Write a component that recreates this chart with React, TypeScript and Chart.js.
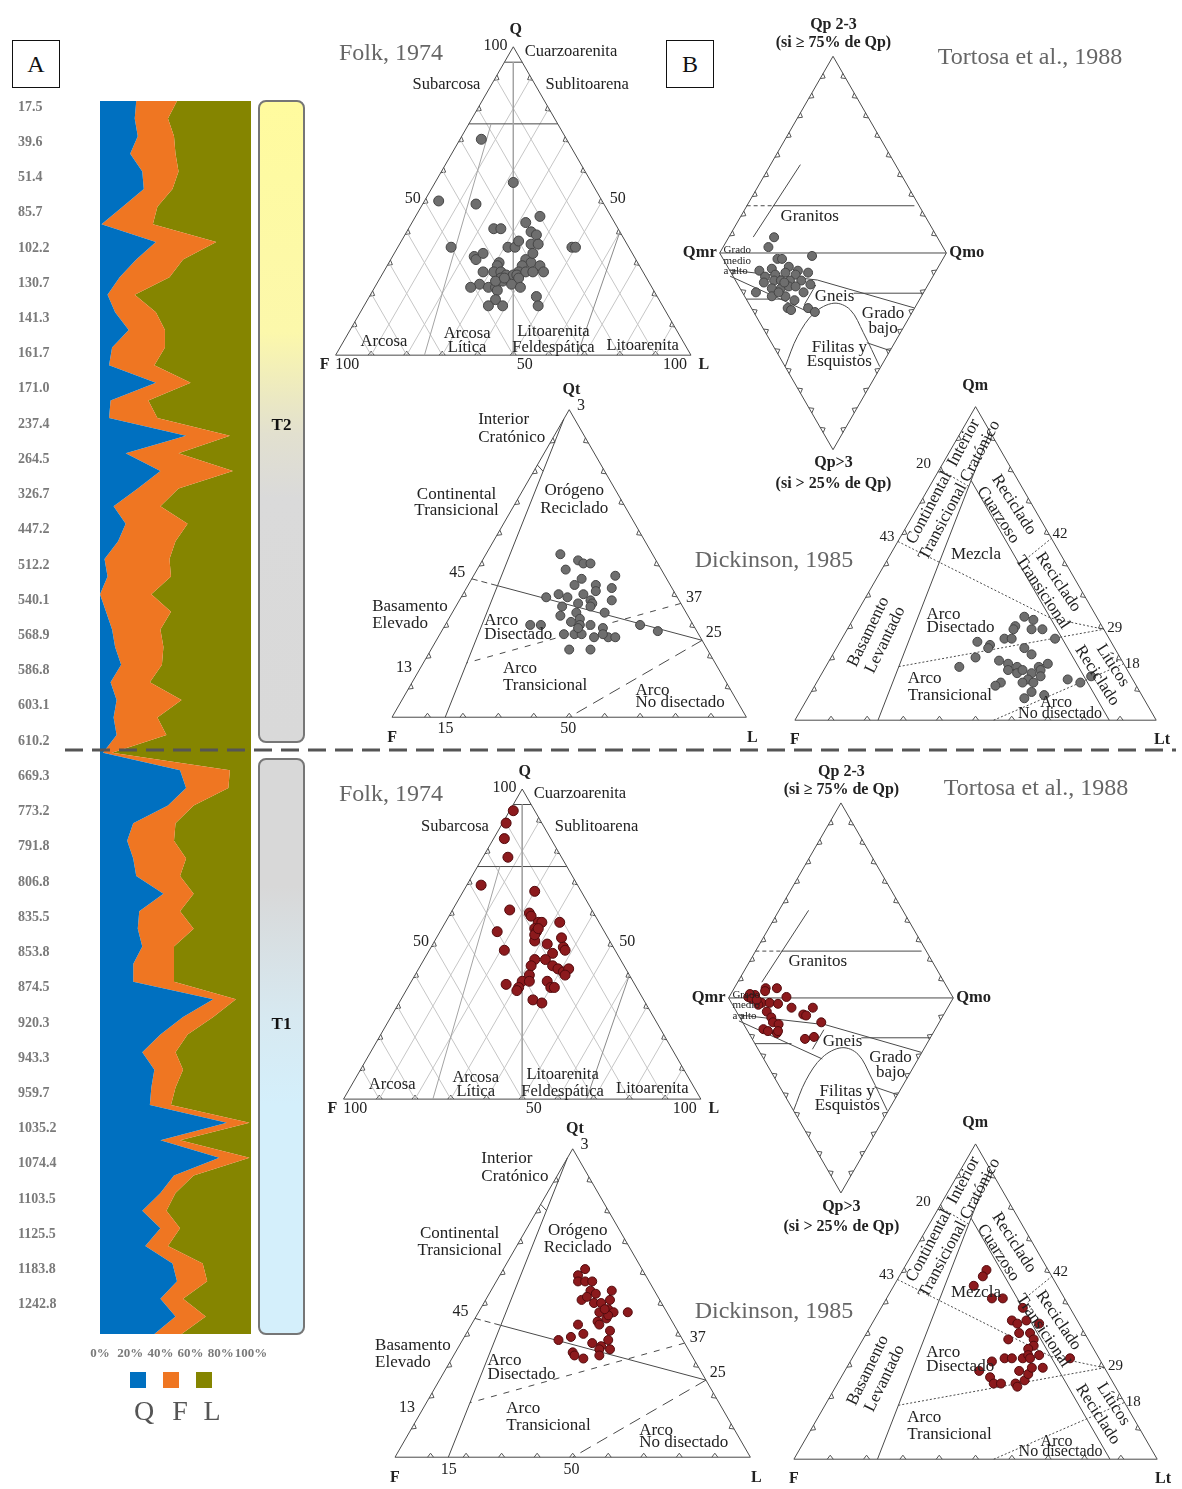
import React, { useEffect, useRef } from 'react';
import { Chart, registerables } from 'chart.js';

Chart.register(...registerables);

const PAGE_W = 1182;
const PAGE_H = 1489;
const SERIF = '"Liberation Serif", "Times New Roman", serif';
const INK = '#222222';

const Q_COLOR = '#0070c0';
const F_COLOR = '#ef7622';
const L_COLOR = '#858500';

// ---------- Column A: Q-F-L percentages per sample (top to bottom) ----------
const depthLabels = [
  '17.5', '39.6', '51.4', '85.7', '102.2', '130.7', '141.3', '161.7', '171.0',
  '237.4', '264.5', '326.7', '447.2', '512.2', '540.1', '568.9', '586.8', '603.1', '610.2',
  '669.3', '773.2', '791.8', '806.8', '835.5', '853.8', '874.5', '920.3', '943.3', '959.7',
  '1035.2', '1074.4', '1103.5', '1125.5', '1183.8', '1242.8',
];

const sampleQ = [
  24, 23, 25, 20, 28, 29, 15, 1, 37, 24,
  13, 5, 10, 19, 8, 6, 37, 7, 6, 57,
  17, 40, 25, 9, 17, 12, 3, 5, 0, 4,
  8, 10, 14, 7, 11, 9, 11, 2, 53, 57,
  45, 22, 18, 22, 24, 42, 26, 25, 28, 22,
  22, 75, 55, 40, 28, 36, 34, 33, 84, 40,
  79, 49, 40, 28, 40, 30, 48, 51, 40, 50,
  36,
];
const sampleF = [
  27, 22, 24, 30, 24, 19, 23, 34, 40, 31,
  33, 18, 27, 24, 35, 30, 23, 25, 32, 29,
  35, 48, 27, 31, 41, 38, 43, 42, 34, 43,
  32, 32, 27, 26, 43, 29, 33, 6, 33, 28,
  17, 28, 31, 35, 29, 20, 27, 37, 21, 27,
  27, 15, 20, 18, 22, 19, 16, 14, 15, 13,
  20, 13, 10, 16, 13, 15, 20, 20, 15, 20,
  18,
];
const sampleL = [
  49, 55, 51, 50, 48, 52, 62, 65, 23, 45,
  54, 77, 63, 57, 57, 64, 40, 68, 62, 14,
  48, 12, 48, 60, 42, 50, 54, 53, 66, 53,
  60, 58, 59, 67, 46, 62, 56, 92, 14, 15,
  38, 50, 51, 43, 47, 38, 47, 38, 51, 51,
  51, 10, 25, 42, 50, 45, 50, 53, 1, 47,
  1, 38, 50, 56, 47, 55, 32, 29, 45, 30,
  46,
];

// ---------- Section T2 (upper) compositions ----------
// Folk: [Q, F, L]
const folkT2: [number, number, number][] = [
  [70, 24, 6], [56, 22, 22], [50, 46, 4], [49, 36, 15], [45, 20, 35], [41, 35, 24], [41, 33, 26],
  [43, 25, 32], [40, 25, 35], [39, 24, 37], [35, 34, 31], [35, 32, 33], [37, 30, 33], [36, 27, 37],
  [36, 25, 39], [35, 50, 15], [35, 16, 49], [35, 15, 50], [32, 45, 23], [31, 45, 24], [33, 42, 25],
  [31, 31, 38], [30, 30, 40], [30, 39, 31], [29, 40, 31], [29, 33, 38], [27, 35, 38], [29, 28, 43],
  [27, 28, 45], [27, 45, 28], [27, 42, 31], [27, 40, 33], [26, 39, 35], [26, 37, 37], [25, 41, 34],
  [24, 41, 35], [26, 36, 38], [27, 33, 40], [27, 31, 42], [25, 36, 39], [23, 48, 29], [22, 51, 27],
  [22, 46, 32], [22, 44, 34], [21, 44, 35], [23, 39, 38], [22, 37, 41], [19, 34, 47], [16, 35, 49],
  [18, 46, 36], [16, 49, 35], [16, 45, 39], [24, 43, 33], [25, 40, 35], [33, 28, 39],
];
// Tortosa: upper field [Qp 2-3, Qmr, Qmo], lower field [Qp>3, Qmr, Qmo]
const tortosaT2Upper: [number, number, number][] = [[8, 72, 20], [3, 77, 20]];
const tortosaT2Lower: [number, number, number][] = [
  [1.5, 58.5, 40], [3, 73, 24], [3, 71, 26], [9, 78, 13], [8, 73, 19], [7, 66, 27], [9, 61, 30],
  [10, 56, 34], [12, 74, 14], [11, 70, 19], [10, 66, 24], [11, 61, 28], [14, 69, 17], [14, 66, 20],
  [14, 62, 24], [14, 57, 29], [16, 52, 32], [20, 74, 6], [18, 68, 14], [18, 64, 18], [17, 61, 22],
  [17, 58, 25], [20, 53, 27], [22, 66, 12], [22, 60, 18], [24, 55, 21], [28, 56, 16], [29, 54, 17],
  [28, 47, 25], [30, 43, 27], [20, 64, 16], [15, 73, 12], [15, 64, 21],
];
// Dickinson: [Qt, F, L]
const qtflT2: [number, number, number][] = [
  [53, 26, 21], [51, 22, 27], [50, 21, 29], [50, 19, 31], [48, 27, 25], [46, 14, 40], [45, 24, 31],
  [43, 21, 36], [43, 27, 30], [41, 22, 37], [42, 17, 41], [39, 37, 24], [40, 33, 27], [39, 31, 30],
  [40, 26, 34], [38, 25, 37], [38, 19, 43], [36, 34, 30], [37, 29, 34], [37, 25, 38], [33, 36, 31],
  [34, 31, 35], [34, 23, 43], [30, 46, 24], [30, 43, 27], [31, 34, 35], [32, 31, 37], [30, 32, 38],
  [30, 29, 41], [29, 26, 45], [27, 38, 35], [27, 35, 38], [27, 33, 40], [26, 30, 44], [26, 26, 48],
  [26, 24, 50], [22, 39, 39], [22, 33, 45], [30, 15, 55], [28, 11, 61], [36, 26, 38], [29, 33, 38],
  [27, 27, 46],
];
// Dickinson: [Qm, F, Lt]
const qmfltT2: [number, number, number][] = [
  [33, 20, 47], [32, 18, 50], [30, 24, 46], [29, 25, 46], [29, 20, 51], [29, 17, 54], [26, 15, 59],
  [26, 29, 45], [26, 27, 47], [25, 37, 38], [24, 34, 42], [23, 35, 42], [23, 25, 52], [21, 24, 55],
  [20, 40, 40], [17, 46, 37], [19, 34, 47], [18, 32, 50], [16, 33, 51], [17, 30, 53], [15, 31, 54],
  [16, 29, 55], [17, 24, 59], [16, 24, 60], [18, 21, 61], [15, 27, 58], [13, 29, 58], [12, 31, 57],
  [12, 37, 51], [11, 39, 50], [12, 28, 60], [9, 30, 61], [7, 33, 60], [8, 27, 65], [13, 18, 69],
  [12, 15, 73], [14, 11, 75], [14, 25, 61],
];

// ---------- Section T1 (lower) compositions ----------
const folkT1: [number, number, number][] = [
  [93, 6, 1], [89, 10, 1], [84, 13, 3], [78, 15, 7], [69, 27, 4], [67, 13, 20], [61, 23, 16],
  [60, 18, 22], [59, 18, 23], [54, 30, 16], [57, 17, 26], [57, 16, 27], [57, 11, 32], [55, 19, 26],
  [54, 19, 27], [51, 21, 28], [50, 18, 32], [52, 13, 35], [49, 14, 37], [48, 14, 38], [48, 31, 21],
  [47, 18, 35], [45, 24, 31], [45, 21, 34], [43, 26, 31], [43, 20, 37], [42, 19, 39], [41, 18, 41],
  [42, 16, 42], [40, 18, 42], [40, 28, 32], [38, 31, 31], [38, 29, 33], [36, 33, 31], [35, 34, 31],
  [37, 36, 27], [38, 24, 38], [36, 24, 40], [36, 23, 41], [32, 31, 37], [31, 29, 40], [53, 20, 27],
  [55, 18, 27],
];
const tortosaT1Upper: [number, number, number][] = [
  [5, 81, 14], [5, 76, 19], [1.5, 87.5, 11], [0.5, 91, 8.5], [0.5, 74, 25.5], [3.5, 82, 14.5], [2, 89.5, 8.5],
];
const tortosaT1Lower: [number, number, number][] = [
  [2.5, 84, 13.5], [2.5, 80.5, 17], [3, 76.5, 20.5], [5, 69.5, 25.5], [8.5, 62.5, 29], [5, 60, 35],
  [9, 61, 30], [12.5, 52.5, 35], [7, 79.5, 13.5], [3.5, 85, 11.5], [10, 76, 14], [12.5, 74, 13.5],
  [13.5, 71, 15.5], [16, 76.5, 7.5], [17, 74, 9], [18, 69.5, 12.5], [17, 69.5, 13.5], [21, 55.5, 23.5],
  [20, 52, 28], [0.5, 89.5, 10], [1, 87, 12],
];
const qtflT1: [number, number, number][] = [
  [61, 16, 23], [59, 19, 22], [57, 20, 23], [57, 18, 25], [57, 16, 27], [54, 18, 28], [53, 17, 30],
  [51, 22, 27], [52, 20, 28], [50, 19, 31], [54, 12, 34], [50, 17, 33], [51, 14, 35], [47, 19, 34],
  [48, 16, 36], [47, 15, 38], [47, 11, 42], [45, 18, 37], [44, 21, 35], [43, 21, 36], [41, 19, 40],
  [43, 27, 30], [39, 31, 30], [40, 27, 33], [38, 35, 27], [37, 26, 37], [36, 24, 40], [38, 21, 41],
  [35, 25, 40], [35, 22, 43], [34, 33, 33], [33, 33, 34], [32, 31, 37], [33, 26, 41], [46, 17, 37],
  [48, 17, 35],
];
const qmfltT1: [number, number, number][] = [
  [60, 17, 23], [58, 19, 23], [55, 23, 22], [51, 20, 29], [51, 17, 32], [48, 13, 39], [44, 18, 38],
  [43, 17, 40], [44, 14, 42], [43, 11, 46], [40, 18, 42], [40, 15, 45], [38, 22, 40], [38, 15, 47],
  [36, 16, 48], [35, 18, 47], [33, 16, 51], [32, 8, 60], [31, 30, 39], [32, 26, 42], [32, 24, 44],
  [32, 21, 47], [33, 19, 48], [32, 19, 49], [28, 35, 37], [26, 33, 41], [24, 33, 43], [24, 31, 45],
  [24, 27, 49], [23, 27, 50], [25, 24, 51], [27, 22, 51], [29, 20, 51], [29, 17, 54], [28, 24, 48],
];

// ---------- ternary geometry ----------
type Pt = { x: number; y: number };
const SQ3 = Math.sqrt(3) / 2;
const H = 100 * SQ3;
const P = (x: number, y: number): Pt => ({ x, y });

// apex component on top, the other two at the left / right base corners
function tern(top: number, left: number, right: number): Pt {
  const s = top + left + right;
  return { x: ((right + top / 2) / s) * 100, y: (top / s) * 100 * SQ3 };
}
// lower half of the Tortosa diamond (apex pointing down)
function ternDown(bottom: number, left: number, right: number): Pt {
  const s = bottom + left + right;
  return { x: ((right + bottom / 2) / s) * 100, y: -(bottom / s) * 100 * SQ3 };
}
function intersect(p1: Pt, p2: Pt, p3: Pt, p4: Pt): Pt {
  const d = (p1.x - p2.x) * (p3.y - p4.y) - (p1.y - p2.y) * (p3.x - p4.x);
  const a = p1.x * p2.y - p1.y * p2.x;
  const b = p3.x * p4.y - p3.y * p4.x;
  return {
    x: (a * (p3.x - p4.x) - (p1.x - p2.x) * b) / d,
    y: (a * (p3.y - p4.y) - (p1.y - p2.y) * b) / d,
  };
}

type Seg = { pts: Pt[]; color?: string; width?: number; dash?: number[]; tension?: number; back?: boolean };
type Lbl = {
  text?: string; lines?: string[]; u: number; v: number; size?: number; bold?: boolean;
  align?: CanvasTextAlign; rot?: number;
};
type Kind = 'folk' | 'tortosa' | 'qtfl' | 'qmflt';

const FRAME = '#4a4a4a';
const GRID = '#c6c6c6';
const TRI: Pt[] = [P(0, 0), P(100, 0), P(50, H), P(0, 0)];
const DIAMOND: Pt[] = [P(0, 0), P(50, H), P(100, 0), P(50, -H), P(0, 0)];

function folkFrame(): Seg[] {
  const segs: Seg[] = [];
  for (let k = 10; k < 100; k += 10) {
    segs.push({ pts: [tern(100 - k, k, 0), tern(0, k, 100 - k)], color: GRID, back: true });
    segs.push({ pts: [tern(100 - k, 0, k), tern(0, 100 - k, k)], color: GRID, back: true });
  }
  segs.push({ pts: [tern(95, 2.5, 2.5), tern(0, 50, 50)], color: '#a3a3a3' });
  segs.push({ pts: [tern(75, 18.75, 6.25), tern(0, 75, 25)], color: '#a3a3a3' });
  segs.push({ pts: [tern(40, 0, 60), tern(0, 32, 68)], color: '#8a8a8a' });
  segs.push({ pts: [tern(95, 5, 0), tern(95, 0, 5)] });
  segs.push({ pts: [tern(75, 25, 0), tern(75, 0, 25)] });
  segs.push({ pts: TRI });
  return segs;
}

function tortosaFrame(): Seg[] {
  return [
    { pts: DIAMOND },
    { pts: [P(0, 0), P(100, 0)] },
    { pts: [P(14.8, 7), P(35.6, 38.9)] },
    { pts: [P(11.9, 20.8), P(23.5, 20.8)], dash: [4, 3] },
    { pts: [P(23.5, 20.8), P(85.9, 20.8)] },
    { pts: [P(4.3, -7.5), P(43.1, -11.9), P(85.9, -24.2)] },
    { pts: [P(59.1, -17.7), P(89.8, -17.7)] },
    { pts: [P(11.7, -20.3), P(28, -20.3)] },
    { pts: [P(4.6, -10.2), P(41.7, -27.1)] },
    { pts: [P(37.3, -22.8), P(42.4, -14.1)] },
    {
      pts: [P(28.9, -50), P(34.4, -36.6), P(41.7, -26.4), P(50.4, -22.1), P(57.6, -25), P(63.4, -35.1), P(70.6, -50)],
      tension: 0.35,
    },
    { pts: [P(64.9, -39.5), P(75.2, -43)] },
  ];
}

function qtflFrame(): Seg[] {
  const inner = [tern(97, 3, 0), tern(0, 85, 15)];
  const a45 = tern(45, 55, 0);
  const r25 = tern(25, 0, 75);
  const cut45 = intersect(a45, r25, inner[0], inner[1]);
  const r37 = tern(37, 0, 63);
  const cut37 = intersect(r37, tern(13, 87, 0), inner[0], inner[1]);
  return [
    { pts: TRI },
    { pts: inner },
    { pts: [a45, cut45], dash: [6, 4] },
    { pts: [cut45, r25] },
    { pts: [r37, cut37], dash: [6, 7] },
    { pts: [r25, tern(0, 50, 50)], dash: [12, 7] },
    { pts: [tern(82, 18, 0), tern(80, 17.4, 2.6)] },
  ];
}

function qmfltFrame(): Seg[] {
  const inner = [tern(0, 77, 23), tern(92, 0, 8)];
  const diagTop = intersect(tern(87, 13, 0), tern(0, 13, 87), inner[0], inner[1]);
  const r29 = tern(29, 0, 71);
  const dot = [2, 2];
  return [
    { pts: TRI },
    { pts: inner },
    { pts: [diagTop, tern(0, 13, 87)] },
    { pts: [tern(80, 20, 0), tern(74.6, 14.6, 10.8)], dash: dot },
    { pts: [tern(57, 43, 0), tern(32.6, 13, 54.4), r29], dash: dot },
    { pts: [tern(17.1, 62.7, 20.2), r29], dash: dot },
    { pts: [tern(0, 45, 55), tern(18, 0, 82)], dash: dot },
    { pts: [tern(49.7, 13, 37.3), tern(58, 0, 42)], dash: dot },
  ];
}

const FRAMES: Record<Kind, Seg[]> = {
  folk: folkFrame(),
  tortosa: tortosaFrame(),
  qtfl: qtflFrame(),
  qmflt: qmfltFrame(),
};

const LABELS: Record<Kind, Lbl[]> = {
  folk: [
    { text: 'Q', u: 50.7, v: 91.3, bold: true, size: 16 },
    { text: '100', u: 48.4, v: 86.9, align: 'right', size: 16 },
    { text: 'Cuarzoarenita', u: 53.2, v: 85.2, align: 'left', size: 16.5 },
    { text: 'Subarcosa', u: 31.2, v: 76.0, size: 16.5 },
    { text: 'Sublitoarena', u: 70.8, v: 76.0, size: 16.5 },
    { text: '50', u: 21.7, v: 44.0, size: 16 },
    { text: '50', u: 79.4, v: 44.0, size: 16 },
    { text: 'Arcosa', u: 13.6, v: 3.9, size: 16.5 },
    { text: 'Arcosa', u: 37.0, v: 6.1, size: 16.5 },
    { text: 'Lítica', u: 37.0, v: 2.2, size: 16.5 },
    { text: 'Litoarenita', u: 61.3, v: 6.7, size: 16.5 },
    { text: 'Feldespática', u: 61.3, v: 2.2, size: 16.5 },
    { text: 'Litoarenita', u: 86.4, v: 2.8, size: 16.5 },
    { text: 'F', u: -3.1, v: -2.8, bold: true, size: 16 },
    { text: '100', u: 3.3, v: -2.8, size: 16 },
    { text: '50', u: 53.2, v: -2.8, size: 16 },
    { text: '100', u: 95.5, v: -2.8, size: 16 },
    { text: 'L', u: 103.6, v: -2.8, bold: true, size: 16 },
  ],
  tortosa: [
    { text: 'Qp 2-3', u: 50.2, v: 100.3, bold: true, size: 16 },
    { text: '(si \u2265 75% de Qp)', u: 50.2, v: 92.5, bold: true, size: 16 },
    { text: 'Qmr', u: -1.3, v: 0, bold: true, align: 'right', size: 16.5 },
    { text: 'Qmo', u: 101.3, v: 0, bold: true, align: 'left', size: 16.5 },
    { text: 'Granitos', u: 39.7, v: 16.2 },
    { text: 'Grado', u: 1.7, v: 1.3, size: 11, align: 'left' },
    { text: 'medio', u: 1.7, v: -3.4, size: 11, align: 'left' },
    { text: 'a alto', u: 1.7, v: -7.9, size: 11, align: 'left' },
    { text: 'Gneis', u: 50.7, v: -19.2 },
    { text: 'Grado', u: 72.1, v: -26.6 },
    { text: 'bajo', u: 72.1, v: -33.2 },
    { text: 'Filitas y', u: 52.8, v: -41.5 },
    { text: 'Esquistos', u: 52.8, v: -47.6 },
    { text: 'Qp>3', u: 50.2, v: -92.6, bold: true, size: 16 },
    { text: '(si > 25% de Qp)', u: 50.2, v: -101.7, bold: true, size: 16 },
  ],
  qtfl: [
    { text: 'Qt', u: 50.6, v: 92.2, bold: true, size: 16 },
    { text: '3', u: 52.2, v: 87.7, align: 'left', size: 16 },
    { text: 'Interior', u: 24.3, v: 83.8, align: 'left' },
    { text: 'Cratónico', u: 24.3, v: 78.9, align: 'left' },
    { text: 'Continental', u: 18.2, v: 62.8 },
    { text: 'Transicional', u: 18.2, v: 58.1 },
    { text: 'Orógeno', u: 51.4, v: 63.7 },
    { text: 'Reciclado', u: 51.4, v: 58.9 },
    { text: '45', u: 18.4, v: 40.8, size: 16 },
    { text: 'Basamento', u: -5.6, v: 31.3, align: 'left' },
    { text: 'Elevado', u: -5.6, v: 26.5, align: 'left' },
    { text: 'Arco', u: 26.0, v: 27.1, align: 'left' },
    { text: 'Disectado', u: 26.0, v: 23.2, align: 'left' },
    { text: '37', u: 85.2, v: 33.5, size: 16 },
    { text: '25', u: 90.8, v: 23.7, size: 16 },
    { text: '13', u: 3.4, v: 14.0, size: 16 },
    { text: 'Arco', u: 31.3, v: 13.7, align: 'left' },
    { text: 'Transicional', u: 31.3, v: 8.9, align: 'left' },
    { text: 'Arco', u: 68.7, v: 7.5, align: 'left' },
    { text: 'No disectado', u: 68.7, v: 4.2, align: 'left' },
    { text: 'F', u: 0, v: -5.9, bold: true, size: 16 },
    { text: '15', u: 15.1, v: -3.4, size: 16 },
    { text: '50', u: 49.7, v: -3.4, size: 16 },
    { text: 'L', u: 101.7, v: -5.9, bold: true, size: 16 },
  ],
  qmflt: [
    { text: 'Qm', u: 49.9, v: 92.3, bold: true, size: 16 },
    { text: '20', u: 35.6, v: 70.7, size: 15 },
    { text: '43', u: 25.5, v: 50.7, size: 15 },
    { text: '42', u: 73.4, v: 51.5, size: 15 },
    { text: '29', u: 88.5, v: 25.5, size: 15 },
    { text: '18', u: 93.4, v: 15.6, size: 15 },
    { lines: ['Continental \u00a0Interior', 'Transicional Cratónico'], u: 43.3, v: 64.7, rot: -62 },
    { lines: ['Reciclado', 'Cuarzoso'], u: 58.4, v: 58.1, rot: 57 },
    { lines: ['Reciclado', 'Transicional'], u: 70.7, v: 36.7, rot: 56 },
    { lines: ['Líticos', 'Reciclado'], u: 85.8, v: 13.7, rot: 57 },
    { lines: ['Basamento', 'Levantado'], u: 22.7, v: 23.3, rot: -64 },
    { text: 'Mezcla', u: 50.1, v: 45.8 },
    { text: 'Arco', u: 36.4, v: 29.2, align: 'left' },
    { text: 'Disectado', u: 36.4, v: 25.5, align: 'left' },
    { text: 'Arco', u: 31.2, v: 11.5, align: 'left' },
    { text: 'Transicional', u: 31.2, v: 6.8, align: 'left' },
    { text: 'Arco', u: 72.3, v: 4.9, size: 16 },
    { text: 'No disectado', u: 73.4, v: 1.9, size: 16 },
    { text: 'F', u: 0, v: -5.5, bold: true, size: 16 },
    { text: 'Lt', u: 101.6, v: -5.5, bold: true, size: 16 },
  ],
};

// placement of each diagram on the page: left base corner (px) and base width (px)
type Placement = { ox: number; oy: number; w: number };
type DotStyle = { fill: string; edge: string; r: number };
const GREY_DOT: DotStyle = { fill: '#6e6e6e', edge: '#454545', r: 5 };
const RED_DOT: DotStyle = { fill: '#8c1a1d', edge: '#520a0d', r: 5 };

type Diagram = { kind: Kind; place: Placement; pts: Pt[]; dot: DotStyle };

const DIAGRAMS: Diagram[] = [
  { kind: 'folk', place: { ox: 333, oy: 352, w: 359 }, pts: folkT2.map(([q, f, l]) => tern(q, f, l)), dot: GREY_DOT },
  {
    kind: 'tortosa', place: { ox: 721, oy: 249, w: 229 },
    pts: [...tortosaT2Upper.map(([a, b, c]) => tern(a, b, c)), ...tortosaT2Lower.map(([a, b, c]) => ternDown(a, b, c))],
    dot: { ...GREY_DOT, r: 4.5 },
  },
  { kind: 'qtfl', place: { ox: 390, oy: 717, w: 358 }, pts: qtflT2.map(([q, f, l]) => tern(q, f, l)), dot: { ...GREY_DOT, r: 4.5 } },
  { kind: 'qmflt', place: { ox: 797, oy: 720, w: 365 }, pts: qmfltT2.map(([q, f, l]) => tern(q, f, l)), dot: { ...GREY_DOT, r: 4.5 } },
  { kind: 'folk', place: { ox: 341, oy: 1102, w: 361 }, pts: folkT1.map(([q, f, l]) => tern(q, f, l)), dot: RED_DOT },
  {
    kind: 'tortosa', place: { ox: 730, oy: 1000, w: 227 },
    pts: [...tortosaT1Upper.map(([a, b, c]) => tern(a, b, c)), ...tortosaT1Lower.map(([a, b, c]) => ternDown(a, b, c))],
    dot: { ...RED_DOT, r: 4.5 },
  },
  { kind: 'qtfl', place: { ox: 393, oy: 1463, w: 359 }, pts: qtflT1.map(([q, f, l]) => tern(q, f, l)), dot: { ...RED_DOT, r: 4.5 } },
  { kind: 'qmflt', place: { ox: 796, oy: 1465, w: 367 }, pts: qmfltT1.map(([q, f, l]) => tern(q, f, l)), dot: { ...RED_DOT, r: 4.5 } },
];

const TITLES = [
  { text: 'Folk, 1974', x: 391, y: 54 },
  { text: 'Tortosa et al., 1988', x: 1030, y: 58 },
  { text: 'Dickinson, 1985', x: 774, y: 561 },
  { text: 'Folk, 1974', x: 391, y: 795 },
  { text: 'Tortosa et al., 1988', x: 1036, y: 789 },
  { text: 'Dickinson, 1985', x: 774, y: 1312 },
];

function drawLabel(ctx: CanvasRenderingContext2D, l: Lbl, x: number, y: number) {
  const size = l.size ?? 17;
  ctx.save();
  ctx.font = `${l.bold ? 'bold ' : ''}${size}px ${SERIF}`;
  ctx.fillStyle = INK;
  ctx.textBaseline = 'middle';
  ctx.textAlign = l.align ?? 'center';
  ctx.translate(x, y);
  if (l.rot) ctx.rotate((l.rot * Math.PI) / 180);
  const lines = l.lines ?? [l.text ?? ''];
  const lh = size * 1.1;
  lines.forEach((t, i) => ctx.fillText(t, 0, (i - (lines.length - 1) / 2) * lh));
  ctx.restore();
}

const ternaryDecor = {
  id: 'ternaryDecor',
  beforeDatasetsDraw(chart: any) {
    const ctx: CanvasRenderingContext2D = chart.ctx;
    ctx.save();
    ctx.strokeStyle = '#555555';
    ctx.lineWidth = 1;
    DIAGRAMS.forEach((d, k) => {
      const xs = chart.scales['x' + k];
      const ys = chart.scales['y' + k];
      const px = (p: Pt) => ({ x: xs.getPixelForValue(p.x), y: ys.getPixelForValue(p.y) });
      const outline = d.kind === 'tortosa' ? DIAMOND : TRI;
      const c = px(d.kind === 'tortosa' ? P(50, 0) : P(50, H / 3));
      for (let e = 0; e < outline.length - 1; e++) {
        const a = px(outline[e]);
        const b = px(outline[e + 1]);
        const len = Math.hypot(b.x - a.x, b.y - a.y);
        const ex = (b.x - a.x) / len;
        const ey = (b.y - a.y) / len;
        for (let i = 1; i < 10; i++) {
          const tx = a.x + ((b.x - a.x) * i) / 10;
          const ty = a.y + ((b.y - a.y) * i) / 10;
          let nx = -ey;
          let ny = ex;
          if ((c.x - tx) * nx + (c.y - ty) * ny < 0) { nx = -nx; ny = -ny; }
          ctx.beginPath();
          ctx.moveTo(tx - ex * 3, ty - ey * 3);
          ctx.lineTo(tx + nx * 4, ty + ny * 4);
          ctx.lineTo(tx + ex * 3, ty + ey * 3);
          ctx.stroke();
        }
      }
    });
    ctx.restore();
  },
  afterDatasetsDraw(chart: any) {
    const ctx: CanvasRenderingContext2D = chart.ctx;
    DIAGRAMS.forEach((d, k) => {
      const xs = chart.scales['x' + k];
      const ys = chart.scales['y' + k];
      LABELS[d.kind].forEach((l) => drawLabel(ctx, l, xs.getPixelForValue(l.u), ys.getPixelForValue(l.v)));
    });
    ctx.save();
    ctx.font = `24px ${SERIF}`;
    ctx.fillStyle = '#666666';
    ctx.textAlign = 'center';
    ctx.textBaseline = 'middle';
    TITLES.forEach((t) => ctx.fillText(t.text, t.x, t.y));
    ctx.restore();
  },
};

function ternaryConfig(): any {
  const scales: any = {};
  const datasets: any[] = [];
  DIAGRAMS.forEach((d, k) => {
    const s = d.place.w / 100;
    scales['x' + k] = { type: 'linear', axis: 'x', display: false, min: -d.place.ox / s, max: (PAGE_W - d.place.ox) / s };
    scales['y' + k] = { type: 'linear', axis: 'y', display: false, min: -(PAGE_H - d.place.oy) / s, max: d.place.oy / s };
    FRAMES[d.kind].forEach((seg) => {
      datasets.push({
        data: seg.pts,
        showLine: true,
        borderColor: seg.color ?? FRAME,
        borderWidth: seg.width ?? 1,
        borderDash: seg.dash ?? [],
        tension: seg.tension ?? 0,
        pointRadius: 0,
        fill: false,
        xAxisID: 'x' + k,
        yAxisID: 'y' + k,
        order: seg.back ? 3 : 2,
      });
    });
    datasets.push({
      data: d.pts,
      showLine: false,
      pointRadius: d.dot.r,
      pointBackgroundColor: d.dot.fill,
      pointBorderColor: d.dot.edge,
      pointBorderWidth: 1,
      xAxisID: 'x' + k,
      yAxisID: 'y' + k,
      order: 0,
    });
  });
  return {
    type: 'scatter',
    data: { datasets },
    options: {
      responsive: false,
      maintainAspectRatio: false,
      animation: false,
      devicePixelRatio: 1,
      events: [],
      layout: { padding: 0 },
      plugins: { legend: { display: false }, tooltip: { enabled: false } },
      scales,
    },
    plugins: [ternaryDecor],
  };
}

function columnConfig(): any {
  const rowLabels = sampleQ.map((_, i) => (i % 2 === 0 ? depthLabels[i / 2] ?? '' : ''));
  const series = (label: string, data: number[], color: string, fill: any) => ({
    label,
    data,
    backgroundColor: color,
    borderColor: color,
    borderWidth: 0,
    pointRadius: 0,
    tension: 0,
    fill,
  });
  return {
    type: 'line',
    data: {
      labels: rowLabels,
      datasets: [
        series('Q', sampleQ, Q_COLOR, 'origin'),
        series('F', sampleF, F_COLOR, '-1'),
        series('L', sampleL, L_COLOR, '-1'),
      ],
    },
    options: {
      indexAxis: 'y',
      responsive: false,
      maintainAspectRatio: false,
      animation: false,
      devicePixelRatio: 1,
      events: [],
      layout: { padding: { left: 18, right: 49, top: 11, bottom: 0 } },
      plugins: { legend: { display: false }, tooltip: { enabled: false } },
      scales: {
        x: {
          type: 'linear',
          position: 'bottom',
          stacked: true,
          min: 0,
          max: 100,
          grid: { display: false },
          border: { display: false },
          ticks: {
            stepSize: 20,
            autoSkip: false,
            maxRotation: 0,
            padding: 4,
            color: '#7a7a7a',
            font: { family: SERIF, size: 13, weight: 'bold' },
            callback: (v: any) => `${v}%`,
          },
          afterFit: (s: any) => { s.height = 56; },
        },
        y: {
          type: 'category',
          position: 'left',
          offset: false,
          grid: { display: false },
          border: { display: false },
          ticks: {
            autoSkip: false,
            crossAlign: 'far',
            labelOffset: 6,
            padding: 0,
            color: '#7a7a7a',
            font: { family: SERIF, size: 14, weight: 'bold' },
          },
          afterFit: (s: any) => { s.width = 82; },
        },
      },
    },
  };
}

const boxStyle = (left: number): React.CSSProperties => ({
  position: 'absolute',
  left,
  top: 40,
  width: 46,
  height: 46,
  border: '1.5px solid #111',
  fontFamily: SERIF,
  fontSize: 24,
  lineHeight: '46px',
  textAlign: 'center',
  color: '#111',
  background: '#fff',
});

const unitStyle = (top: number, height: number, bg: string): React.CSSProperties => ({
  position: 'absolute',
  left: 258,
  top,
  width: 43,
  height,
  border: '2px solid #767676',
  borderRadius: 8,
  background: bg,
});

const swatch = (left: number, color: string): React.CSSProperties => ({
  position: 'absolute', left, top: 1372, width: 16, height: 16, background: color,
});

const letter = (left: number): React.CSSProperties => ({
  position: 'absolute', left, top: 1394, width: 24, textAlign: 'center',
  fontFamily: SERIF, fontSize: 28, color: '#555', lineHeight: '34px',
});

export default function App() {
  const colRef = useRef<HTMLCanvasElement>(null);
  const triRef = useRef<HTMLCanvasElement>(null);

  useEffect(() => {
    const column = new Chart(colRef.current as HTMLCanvasElement, columnConfig());
    const ternary = new Chart(triRef.current as HTMLCanvasElement, ternaryConfig());
    return () => {
      column.destroy();
      ternary.destroy();
    };
  }, []);

  return (
    <div style={{ position: 'absolute', left: 0, top: 0, width: PAGE_W, height: PAGE_H, background: '#fff', overflow: 'hidden' }}>
      <div style={boxStyle(12)}>A</div>
      <canvas
        ref={colRef}
        width={300}
        height={1300}
        style={{ position: 'absolute', left: 0, top: 90, width: 300, height: 1300 }}
      />
      <div style={unitStyle(100, 639, 'linear-gradient(#fffb9e 0%, #fcf8ab 36%, #e2e0cf 52%, #dadada 62%, #d9d9d9 100%)')}>
        <div style={{ position: 'absolute', left: 0, right: 0, top: 313, textAlign: 'center', fontFamily: SERIF, fontWeight: 'bold', fontSize: 17, color: '#111' }}>T2</div>
      </div>
      <div style={unitStyle(758, 573, 'linear-gradient(#d8d8d8 0%, #d8d8d8 22%, #d7e9f1 45%, #d4effb 60%, #d4effb 100%)')}>
        <div style={{ position: 'absolute', left: 0, right: 0, top: 254, textAlign: 'center', fontFamily: SERIF, fontWeight: 'bold', fontSize: 17, color: '#111' }}>T1</div>
      </div>
      <div style={swatch(130, Q_COLOR)} />
      <div style={swatch(163, F_COLOR)} />
      <div style={swatch(196, L_COLOR)} />
      <div style={letter(132)}>Q</div>
      <div style={letter(168)}>F</div>
      <div style={letter(200)}>L</div>
      <svg width={PAGE_W} height={PAGE_H} style={{ position: 'absolute', left: 0, top: 0, pointerEvents: 'none' }}>
        <line x1={65} y1={750} x2={1176} y2={750} stroke="#555" strokeWidth={3} strokeDasharray="18 9" />
      </svg>
      <canvas
        ref={triRef}
        width={PAGE_W}
        height={PAGE_H}
        style={{ position: 'absolute', left: 0, top: 0, width: PAGE_W, height: PAGE_H }}
      />
      <div style={boxStyle(666)}>B</div>
    </div>
  );
}
